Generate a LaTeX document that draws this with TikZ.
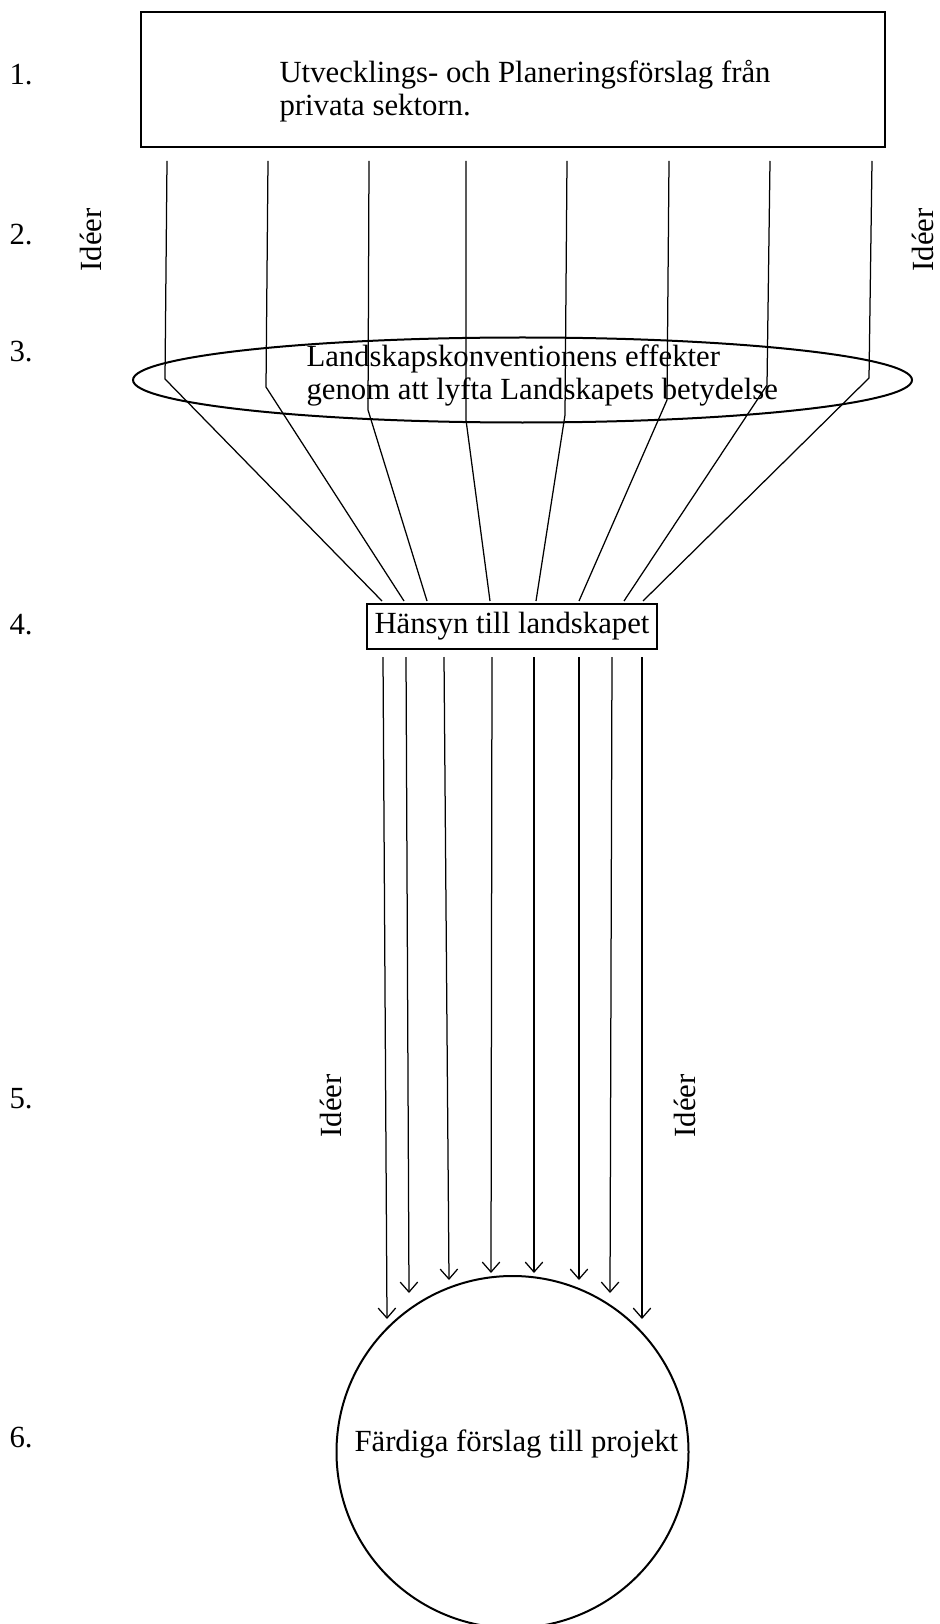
\documentclass[tikz,border=0pt]{standalone}
\usepackage{fontspec}
\setmainfont{Liberation Serif}
\usetikzlibrary{shapes.geometric,arrows.meta}

\begin{document}
\begin{tikzpicture}[x=0.4pt,y=-0.4pt,
                    font=\fontsize{12.3}{13}\selectfont,
                    frame/.style={draw, line width=0.8pt, inner sep=0pt},
                    steg/.style={anchor=base west, inner sep=0pt},
                    ideer/.style={rotate=90, anchor=base west, inner sep=0pt},
                    flow/.style={line width=0.5pt},
                    arrow/.style={-{Straight Barb[length=4pt,width=7pt]}, line width=0.5pt}
                    ]
        \useasboundingbox (0,0) rectangle (939,1624);

        % boxes
        \node[frame, minimum width=297.6pt, minimum height=54pt] (Forslag) at (513,79.5) {};
        \node[steg] (ForslagText) at (279,83)
            {\begin{tabular}[t]{@{}l@{}}Utvecklings- och Planeringsförslag från\\privata sektorn.\end{tabular}};
        \node[frame, ellipse, minimum width=311.6pt, minimum height=34pt] (Konvention) at (522.5,380) {};
        \node[steg] (KonventionText) at (306,367)
            {\begin{tabular}[t]{@{}l@{}}Landskapskonventionens effekter\\genom att lyfta Landskapets betydelse\end{tabular}};
        \node[frame, minimum width=116pt, minimum height=18pt] (Hansyn) at (512,626.5) {Hänsyn till landskapet};
        \node[frame, circle, minimum size=140.8pt] (Projekt) at (512.5,1452) {};
        \node[steg] (ProjektText) at (354,1451.7) {Färdiga förslag till projekt};

        % steps and labels
        \foreach \n/\y in {1/85,2/245,3/362,4/634,5/1108,6/1447}
            \node[steg] (Steg\n) at (9,\y) {\n.};
        \node[ideer] (IdeerA) at (101.5,272) {Idéer};
        \node[ideer] (IdeerB) at (933,272) {Idéer};
        \node[ideer] (IdeerC) at (341,1138) {Idéer};
        \node[ideer] (IdeerD) at (695,1138) {Idéer};

        % ideas through the convention
        \foreach \i/\xa/\xb/\yb/\xc in {1/167/165/379/382, 2/268/266/387/404,
                3/369/368/410/427, 4/466/466/420/490, 5/567/565/415/536,
                6/669/667/400/579, 7/770/767/385/624, 8/872/869/378/643} {
            \coordinate (Ut\i) at (\xa,161);
            \coordinate (Kn\i) at (\xb,\yb);
            \coordinate (In\i) at (\xc,601);
            \draw[flow] (Ut\i) -- (Kn\i) -- (In\i);
        }

        % ideas to the project
        \foreach \i/\xa/\xb/\yb in {1/383/387/1319, 2/406/409/1293, 3/444/449/1280,
                4/492/491/1273, 5/534/534/1273, 6/579/579/1280, 7/612/610/1293,
                8/642/642/1319} {
            \coordinate (Hs\i) at (\xa,657);
            \coordinate (Pr\i) at (\xb,\yb);
            \draw[arrow] (Hs\i) -- (Pr\i);
        }
    \end{tikzpicture}
\end{document}
